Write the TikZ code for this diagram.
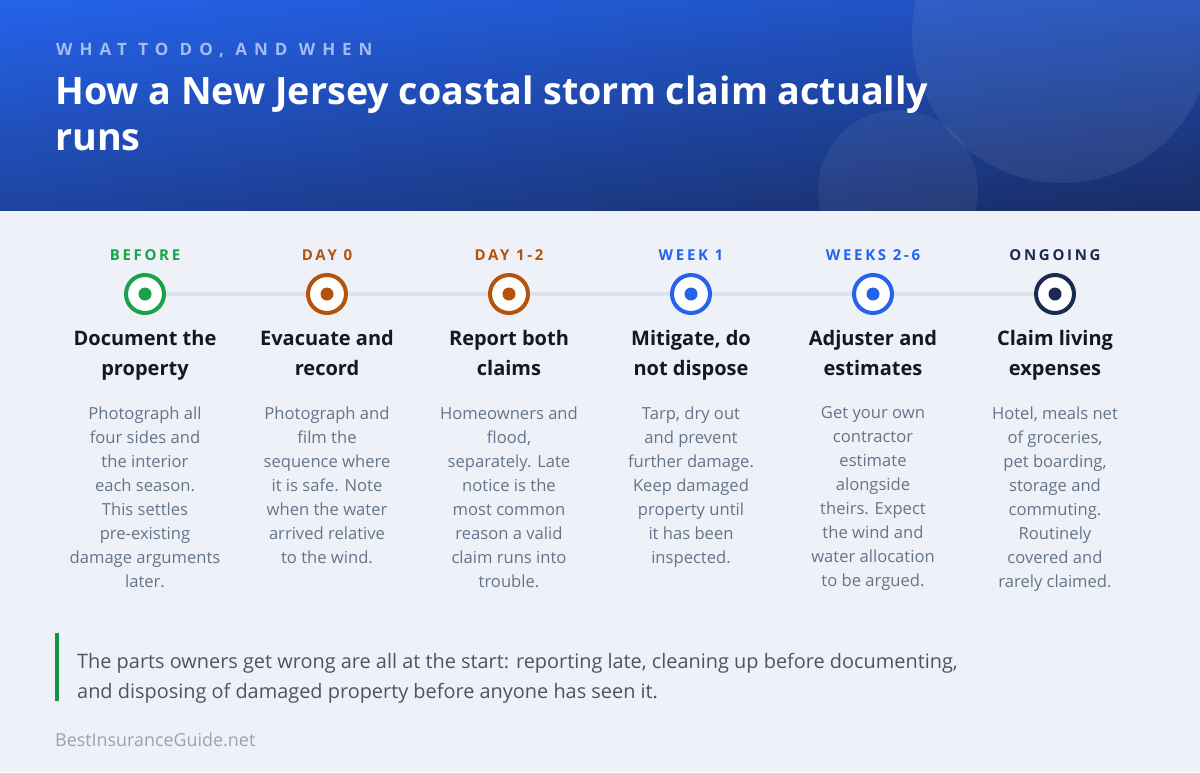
\documentclass[tikz,border=0pt]{standalone}
\usepackage{fontspec}
\setmainfont{Open Sans}
\newfontfamily\trackfont{Open Sans}[LetterSpace=18]
\newfontfamily\widefont{Open Sans}[LetterSpace=41]
\usetikzlibrary{positioning,shadings}

\definecolor{paper}{HTML}{EEF2F8}
\definecolor{rail}{HTML}{DCE3EC}
\definecolor{grn}{HTML}{16A34A}
\definecolor{rust}{HTML}{B45309}
\definecolor{blu}{HTML}{2563EB}
\definecolor{navy}{HTML}{1B2A52}
\definecolor{ink}{HTML}{111827}
\definecolor{slate}{HTML}{64748B}
\definecolor{note}{HTML}{4B5563}
\definecolor{foot}{HTML}{94A3B8}
\definecolor{sky}{HTML}{A3BDF2}
\definecolor{bandA}{RGB}{37,99,235}
\definecolor{bandB}{RGB}{31,78,185}
\definecolor{bandC}{RGB}{30,68,160}
\definecolor{bandD}{RGB}{25,44,100}

\begin{document}
\begin{tikzpicture}[x=1pt,y=-1pt,node distance=182pt,on grid,
    ring/.style={circle,draw=#1,fill=white,line width=4pt,minimum size=38pt,inner sep=0pt},
    when/.style={font=\trackfont\bfseries\fontsize{15}{18}\selectfont,text=#1},
    head/.style={anchor=north,inner sep=0pt,align=center,text=ink,
      font=\bfseries\fontsize{20}{30}\selectfont},
    body/.style={anchor=north,inner sep=0pt,align=center,text=slate,
      font=\fontsize{16.6}{24}\selectfont}]
    \useasboundingbox (0,0) rectangle (1200,772);
    \fill[paper] (0,0) rectangle (1200,772);

    % header band
    \begin{scope}
        \clip (0,0) rectangle (1200,210);
        \shade[upper left=bandA,upper right=bandB,lower left=bandC,lower right=bandD]
            (0,0) rectangle (1200,210);
        \fill[white,opacity=0.07] (1062,33) circle[radius=150];
        \fill[white,opacity=0.06] (898,190) circle[radius=80];
    \end{scope}
    \node[anchor=base west,inner sep=0pt,text=sky,
          font=\widefont\bfseries\fontsize{17}{20}\selectfont] (kicker) at (56,55.5) {WHAT TO DO, AND WHEN};
    \node[anchor=north west,inner sep=0pt,align=left,text=white,
          font=\bfseries\fontsize{37.7}{46}\selectfont] (title) at (55,76)
          {How a New Jersey coastal storm claim actually\\runs};

    % timeline
    \node[ring=grn] (s1) at (145,294) {};
    \node[ring=rust] (s2) [right=of s1] {};
    \node[ring=rust] (s3) [right=of s2] {};
    \node[ring=blu] (s4) [right=of s3] {};
    \node[ring=blu] (s5) [right=of s4] {};
    \node[ring=navy] (s6) [right=of s5] {};
    \draw[rail,line width=4pt] (s1) -- (s2) (s2) -- (s3) (s3) -- (s4) (s4) -- (s5) (s5) -- (s6);
    \fill[grn] (s1) circle[radius=6.5];
    \fill[rust] (s2) circle[radius=6.5];
    \fill[rust] (s3) circle[radius=6.5];
    \fill[blu] (s4) circle[radius=6.5];
    \fill[blu] (s5) circle[radius=6.5];
    \fill[navy] (s6) circle[radius=6.5];

    \node[when=grn] (w1) [above=39pt of s1] {BEFORE};
    \node[when=rust] (w2) [above=39pt of s2] {DAY 0};
    \node[when=rust] (w3) [above=39pt of s3] {DAY 1-2};
    \node[when=blu] (w4) [above=39pt of s4] {WEEK 1};
    \node[when=blu] (w5) [above=39pt of s5] {WEEKS 2-6};
    \node[when=navy] (w6) [above=39pt of s6] {ONGOING};

    \node[head] (h1) at (145,330) {Document the\\property};
    \node[head] (h2) at (327,330) {Evacuate and\\record};
    \node[head] (h3) at (509,330) {Report both\\claims};
    \node[head] (h4) at (691,330) {Mitigate, do\\not dispose};
    \node[head] (h5) at (873,330) {Adjuster and\\estimates};
    \node[head] (h6) at (1055,330) {Claim living\\expenses};

    \node[body] (b1) at (145,406.5) {Photograph all\\four sides and\\the interior\\each season.\\This settles\\pre-existing\\damage arguments\\later.};
    \node[body] (b2) at (327,406.5) {Photograph and\\film the\\sequence where\\it is safe. Note\\when the water\\arrived relative\\to the wind.};
    \node[body] (b3) at (509,406.5) {Homeowners and\\flood,\\separately. Late\\notice is the\\most common\\reason a valid\\claim runs into\\trouble.};
    \node[body] (b4) at (691,406.5) {Tarp, dry out\\and prevent\\further damage.\\Keep damaged\\property until\\it has been\\inspected.};
    \node[body] (b5) at (873,406.5) {Get your own\\contractor\\estimate\\alongside\\theirs. Expect\\the wind and\\water allocation\\to be argued.};
    \node[body] (b6) at (1055,406.5) {Hotel, meals net\\of groceries,\\pet boarding,\\storage and\\commuting.\\Routinely\\covered and\\rarely claimed.};

    % takeaway
    \fill[grn!90!black] (55,633) rectangle (59,701);
    \node[anchor=north west,inner sep=0pt,align=left,text=note,
          font=\fontsize{19.9}{30}\selectfont] (note) at (77,653)
          {The parts owners get wrong are all at the start: reporting late, cleaning up before documenting,\\and disposing of damaged property before anyone has seen it.};
    \node[anchor=base west,inner sep=0pt,text=foot,
          font=\fontsize{17.9}{20}\selectfont] (site) at (55,746) {BestInsuranceGuide.net};
\end{tikzpicture}
\end{document}
